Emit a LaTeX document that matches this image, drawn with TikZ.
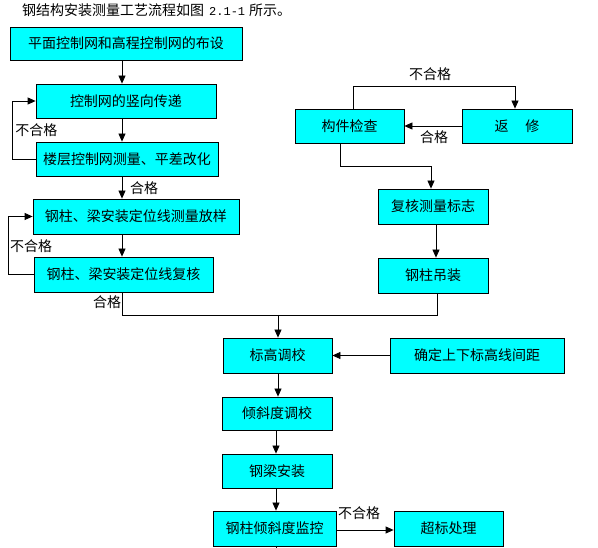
\documentclass[tikz,border=0pt]{standalone}
\usepackage{fontspec}
\newfontfamily\cjk{Noto Sans CJK SC}
\newfontfamily\monof{Liberation Mono}
\usetikzlibrary{arrows.meta}
\definecolor{boxcyan}{RGB}{0,255,255}
\begin{document}
\begin{tikzpicture}[x=1pt,y=-1pt,
  box/.style={draw=black,line width=0.8pt,fill=boxcyan,inner sep=0pt,font=\cjk\fontsize{14}{15}\selectfont},
  lbl/.style={inner sep=0pt,font=\cjk\fontsize{14}{15}\selectfont},
  conn/.style={draw=black,line width=0.8pt},
  arr/.style={conn,-{Triangle[width=7pt,length=8pt]}}]
\useasboundingbox[fill=white] (0,0) rectangle (598,548);
% title
\node[anchor=west,inner sep=0pt] (title) at (22,10) {\cjk\fontsize{14}{15}\selectfont 钢结构安装测量工艺流程如图\hspace{5pt}{\monof\fontsize{12}{12}\selectfont 2.1-1}\hspace{4pt}所示。};
% left column
\node[box,minimum width=232pt,minimum height=33pt] (b1) at (126,43.5) {平面控制网和高程控制网的布设};
\node[box,minimum width=180pt,minimum height=34pt] (b2) at (126,101) {控制网的竖向传递};
\node[box,minimum width=182pt,minimum height=34pt] (b3) at (127,159) {楼层控制网测量、平差改化};
\node[box,minimum width=206pt,minimum height=35pt] (b4) at (136,216.5) {钢柱、梁安装定位线测量放样};
\node[box,minimum width=179pt,minimum height=35pt] (b5) at (123.5,274.5) {钢柱、梁安装定位线复核};
% right column
\node[box,minimum width=109pt,minimum height=34pt] (c1) at (349.5,126) {构件检查};
\node[box,minimum width=110pt,minimum height=34pt] (c2) at (517,126) {返\hspace{1.2em}修};
\node[box,minimum width=110pt,minimum height=35pt] (c3) at (433,206.5) {复核测量标志};
\node[box,minimum width=110pt,minimum height=35pt] (c4) at (433,275.5) {钢柱吊装};
% lower column
\node[box,minimum width=109pt,minimum height=35pt] (d1) at (277.5,355.5) {标高调校};
\node[box,minimum width=174pt,minimum height=35pt] (d2) at (477,355.5) {确定上下标高线间距};
\node[box,minimum width=110pt,minimum height=33pt] (d3) at (277,413.5) {倾斜度调校};
\node[box,minimum width=110pt,minimum height=34pt] (d4) at (277,471) {钢梁安装};
\node[box,minimum width=123pt,minimum height=35pt] (d5) at (274.5,528.5) {钢柱倾斜度监控};
\node[box,minimum width=109pt,minimum height=35pt] (d6) at (448.5,528.5) {超标处理};
% coordinates
\coordinate (sp) at (122,0);
\coordinate (j1) at (122,315);
\coordinate (j2) at (437,315);
\coordinate (jm) at (278,315);
\coordinate (s2) at (276,0);
\coordinate (endb) at (276,548);
\coordinate (t1) at (353,86);
\coordinate (t2) at (515,86);
\coordinate (k1) at (340,166);
\coordinate (k2) at (431,166);
\coordinate (cx) at (436,0);
% left connectors
\draw[arr] (b1.south -| sp) -- (b2.north -| sp);
\draw[arr] (b2.south -| sp) -- (b3.north -| sp);
\draw[arr] (b3.west) -- ++(-23,0) |- (b2.west);
\draw[arr] (b3.south -| sp) -- (b4.north -| sp);
\draw[arr] (b4.south -| sp) -- (b5.north -| sp);
\draw[arr] (b5.west) -- ++(-25,0) |- (b4.west);
\draw[conn] (b5.south -| sp) -- (j1) -- (j2) -- (c4.south -| j2);
\draw[arr] (jm) -- (d1.north -| jm);
% right connectors
\draw[arr] (c1.north -| t1) -- (t1) -- (t2) -- (c2.north -| t2);
\draw[arr] (c2.west) -- (c1.east);
\draw[arr] (c1.south -| k1) -- (k1) -- (k2) -- (c3.north -| k2);
\draw[arr] (c3.south -| cx) -- (c4.north -| cx);
% lower connectors
\draw[arr] (d2.west) -- (d1.east);
\draw[arr] (d1.south -| jm) -- (d3.north -| jm);
\draw[arr] (d3.south -| s2) -- (d4.north -| s2);
\draw[arr] (d4.south -| s2) -- (d5.north -| s2);
\draw[conn] (d5.south -| s2) -- (endb);
\draw[arr] (d5.east |- 0,530) -- (d6.west |- 0,530);
% labels
\node[lbl] (l1) at (36.5,130) {不合格};
\node[lbl] (l2) at (144,188) {合格};
\node[lbl] (l3) at (31,246) {不合格};
\node[lbl] (l4) at (107,302) {合格};
\node[lbl] (l5) at (430,74) {不合格};
\node[lbl] (l6) at (434,137) {合格};
\node[lbl] (l7) at (359,513) {不合格};
\end{tikzpicture}
\end{document}
